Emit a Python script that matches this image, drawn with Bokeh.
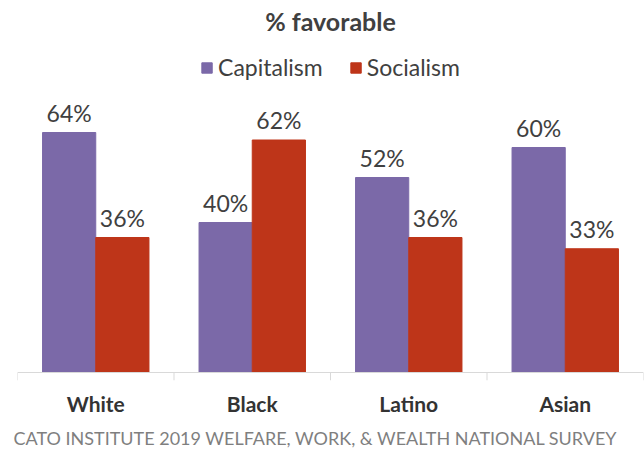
from bokeh.plotting import figure
from bokeh.models import (ColumnDataSource, FactorRange, Range1d, LabelSet, Legend,
                          LegendItem, Title, Span, Label)
from bokeh.core.properties import value
from bokeh.transform import dodge
from bokeh.embed import file_html
from bokeh.resources import INLINE

categories = ["White", "Black", "Latino", "Asian"]
capitalism = [64, 40, 52, 60]
socialism = [36, 62, 36, 33]
series_names = ["Capitalism", "Socialism"]
title_text = "% favorable"
source_text = "CATO INSTITUTE 2019 WELFARE, WORK, & WEALTH NATIONAL SURVEY"

PURPLE = "#7B69A8"
RED = "#BE3519"
TEXT = "#404040"
FONT = "Lato"

src = ColumnDataSource(dict(
    cat=categories,
    cap=capitalism,
    soc=socialism,
    cap_lbl=[f"{v}%" for v in capitalism],
    soc_lbl=[f"{v}%" for v in socialism],
))

# layout: frame spans the full top of the canvas; baseline 8px above frame bottom
TOP, BOTTOM, LEFT, RIGHT = 0, 75, 17, 1
W, H = 644, 455
frame_h = H - TOP - BOTTOM
px_per_unit = 3.75
base_px = frame_h - 8           # baseline distance from frame top, in px
y_start = -8 / px_per_unit
y_end = base_px / px_per_unit
title_baseline_px = 20          # title anchor distance from top, px

p = figure(x_range=FactorRange(*categories), y_range=Range1d(y_start, y_end),
           width=W, height=H, output_backend="svg", toolbar_location=None,
           min_border_left=LEFT, min_border_right=RIGHT, min_border_top=TOP,
           min_border_bottom=BOTTOM,
           background_fill_color="white", border_fill_color="white")

# chart title, centred over the plot
p.add_layout(Label(x=len(categories) / 2, y=(base_px - title_baseline_px) / px_per_unit,
                   text=title_text, text_align="center", text_baseline="alphabetic",
                   text_font=FONT, text_font_size="25px", text_font_style="bold",
                   text_color=TEXT))

bw = 0.34
r1 = p.vbar(x=dodge("cat", -bw / 2, range=p.x_range), top="cap", width=bw, source=src,
            fill_color=PURPLE, line_color=PURPLE)
r2 = p.vbar(x=dodge("cat", bw / 2, range=p.x_range), top="soc", width=bw, source=src,
            fill_color=RED, line_color=RED)

for xo, col in [(-bw / 2, "cap"), (bw / 2, "soc")]:
    p.add_layout(LabelSet(x=dodge("cat", xo, range=p.x_range), y=col, text=col + "_lbl",
                          source=src, text_align="center", text_baseline="alphabetic",
                          y_offset=11, text_font=value(FONT), text_font_size=value("23px"),
                          text_color=value(TEXT)))

# baseline and boundary ticks
p.add_layout(Span(location=0, dimension="width", line_color="#d9d9d9", line_width=1))
bounds = list(range(len(categories) + 1))
p.segment(x0=bounds, x1=bounds, y0=[0] * len(bounds), y1=[y_start] * len(bounds),
          line_color="#d9d9d9", line_width=1)

legend = Legend(items=[LegendItem(label=series_names[0], renderers=[r1]),
                       LegendItem(label=series_names[1], renderers=[r2])],
                orientation="horizontal", location="top_center",
                border_line_color=None, background_fill_alpha=0,
                label_text_font=FONT, label_text_font_size="23px", label_text_color=TEXT,
                glyph_width=13, glyph_height=13, label_standoff=5, spacing=26,
                padding=0, margin=53)
p.add_layout(legend)

p.xaxis.axis_line_color = None
p.xaxis.major_tick_line_color = None
p.xaxis.major_tick_out = 0
p.xaxis.major_tick_in = 0
p.xaxis.minor_tick_line_color = None
p.xaxis.major_label_text_font = FONT
p.xaxis.major_label_text_font_size = "21px"
p.xaxis.major_label_text_font_style = "bold"
p.xaxis.major_label_text_color = "#333333"
p.xaxis.major_label_standoff = 10
p.yaxis.visible = False
p.xgrid.grid_line_color = None
p.ygrid.grid_line_color = None
p.outline_line_color = None

p.add_layout(Title(text=source_text, align="left", text_font=FONT, text_font_size="18px",
                   text_font_style="normal", text_color="#7f7f7f", offset=-4,
                   standoff=12), "below")

open("out.html", "w").write(file_html(p, INLINE))
